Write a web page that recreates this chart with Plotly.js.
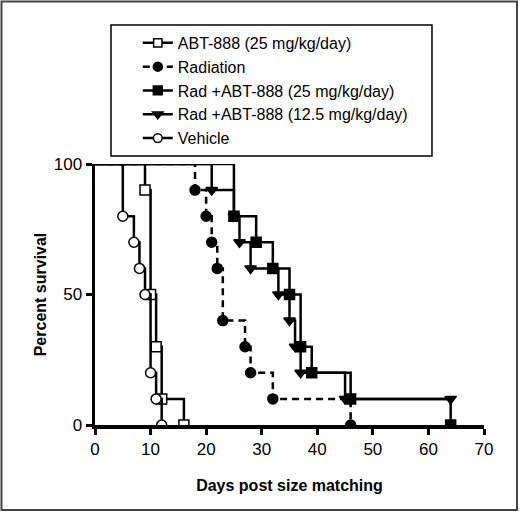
<!DOCTYPE html>
<html>
<head>
<meta charset="utf-8">
<script src="https://cdn.plot.ly/plotly-3.0.1.min.js"></script>
<style>
  html, body { margin: 0; padding: 0; background: #fff; }
  #chart { width: 520px; height: 513px; }
</style>
</head>
<body>
<div id="chart"></div>
<script>
// Kaplan-Meier steps (day, percent surviving)
var abtDays = [0, 9, 10, 11, 12, 16];
var abtSurv = [100, 90, 50, 30, 10, 0];

var radDays = [0, 18, 20, 21, 22, 23, 27, 28, 32, 46];
var radSurv = [100, 90, 80, 70, 60, 40, 30, 20, 10, 0];

var rad25Days = [0, 25, 29, 32, 35, 37, 39, 46, 64];
var rad25Surv = [100, 80, 70, 60, 50, 30, 20, 10, 0];

var rad12Days = [0, 21, 25, 26, 28, 33, 35, 36, 37, 45, 64];
var rad12Surv = [100, 90, 80, 70, 60, 50, 40, 30, 20, 10, 10];

var vehDays = [0, 5, 7, 8, 9, 10, 11, 12];
var vehSurv = [100, 80, 70, 60, 50, 20, 10, 0];

var names = ["ABT-888 (25 mg/kg/day)", "Radiation", "Rad +ABT-888 (25 mg/kg/day)",
             "Rad +ABT-888 (12.5 mg/kg/day)", "Vehicle"];

var FONT = "Liberation Sans, Arial, sans-serif";

// no symbol on the starting point at day 0
function sizes(arr, s){
    return arr.map(function(d, i){ return i == 0 ? 0 : s; });
}

function kmTrace(x, y, name, rank, symbol, fill, dash){
    return {
        x: x,
        y: y,
        name: name,
        legendrank: rank,
        type: 'scatter',
        mode: 'lines+markers',
        line: {shape: 'hv', color: '#000', width: 2.5, dash: dash || 'solid'},
        marker: {symbol: symbol, size: sizes(x, 10), color: fill, opacity: 1,
                 line: {color: '#000', width: 1.5}}
    };
}

var data = [
    kmTrace(abtDays, abtSurv, names[0], 1, 'square', '#fff'),
    kmTrace(radDays, radSurv, names[1], 2, 'circle', '#000', '7px,5px'),
    kmTrace(rad12Days, rad12Surv, names[3], 4, 'triangle-down', '#000'),
    kmTrace(rad25Days, rad25Surv, names[2], 3, 'square', '#000'),
    kmTrace(vehDays, vehSurv, names[4], 5, 'circle', '#fff')
];

var axisStyle = {
    showgrid: false,
    zeroline: false,
    showline: true,
    linecolor: '#000',
    linewidth: 3.5,
    ticks: 'outside',
    ticklen: 6,
    tickwidth: 3,
    tickcolor: '#000',
    tickfont: {family: FONT, size: 17, color: '#000'},
    fixedrange: true
};

var layout = {
    width: 520,
    height: 513,
    margin: {l: 95, r: 36, t: 164, b: 88},
    paper_bgcolor: '#fff',
    plot_bgcolor: '#fff',
    font: {family: FONT, size: 16, color: '#000'},
    showlegend: true,
    legend: {
        x: 0.11, y: 1.529, xanchor: 'left', yanchor: 'top',
        bgcolor: 'rgba(0,0,0,0)', borderwidth: 0,
        font: {family: FONT, size: 16, color: '#000'}
    },
    xaxis: Object.assign({}, axisStyle, {
        range: [0, 70],
        tickvals: [0, 10, 20, 30, 40, 50, 60, 70],
        title: {text: '<b>Days post size matching</b>', standoff: 23,
                font: {family: FONT, size: 16, color: '#000'}}
    }),
    yaxis: Object.assign({}, axisStyle, {
        range: [0, 100],
        tickvals: [0, 50, 100],
        title: {text: '<b>Percent survival</b>', standoff: 4,
                font: {family: FONT, size: 16, color: '#000'}}
    }),
    shapes: [
        // legend box
        {type: 'rect', xref: 'paper', yref: 'paper',
         x0: 0.0411, x1: 0.8663, y0: 1.0307, y1: 1.5326,
         line: {color: '#000', width: 1.5}},
        // picture frame
        {type: 'rect', xref: 'paper', yref: 'paper',
         x0: -0.2404, x1: 1.0848, y0: -0.3257, y1: 1.6226,
         line: {color: '#444', width: 2}}
    ]
};

Plotly.newPlot('chart', data, layout, {staticPlot: true});
</script>
</body>
</html>
